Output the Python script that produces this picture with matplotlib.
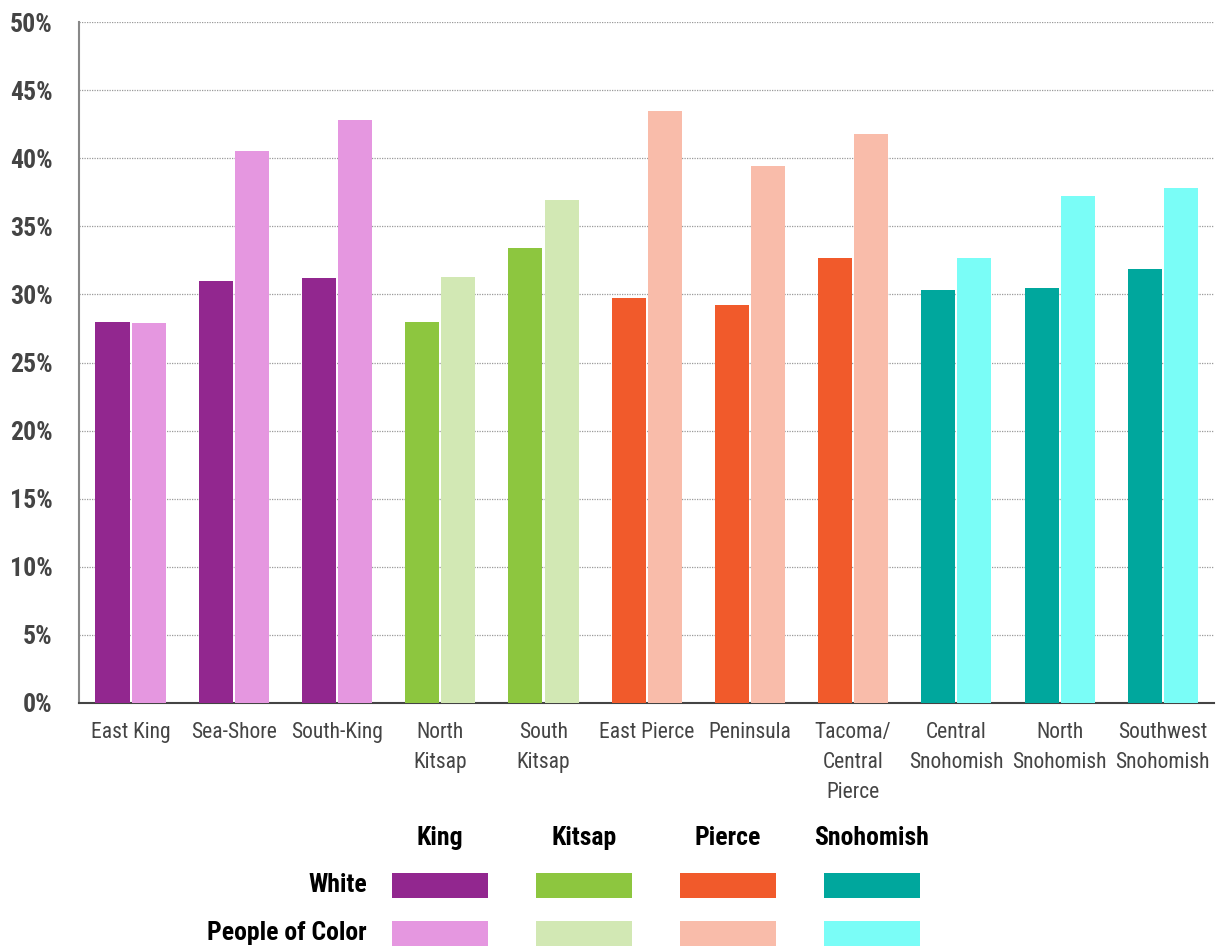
import matplotlib
matplotlib.use("Agg")
import matplotlib.pyplot as plt
import matplotlib.patches as mpatches
import matplotlib.ticker as mticker
import numpy as np
from matplotlib import font_manager

installed = {f.name for f in font_manager.fontManager.ttflist}
fams = [f for f in ["Roboto Condensed", "Liberation Sans Narrow", "Liberation Sans"] if f in installed]
plt.rcParams["font.family"] = fams + ["DejaVu Sans"]

# ── data ────────────────────────────────────────────────────────────────
areas = ["East King", "Sea-Shore", "South-King", "North\nKitsap", "South\nKitsap",
         "East Pierce", "Peninsula", "Tacoma/\nCentral\nPierce", "Central\nSnohomish",
         "North\nSnohomish", "Southwest\nSnohomish"]
area_county = [0, 0, 0, 1, 1, 2, 2, 2, 3, 3, 3]
white = [28.0, 31.0, 31.2, 28.0, 33.4, 29.7, 29.2, 32.7, 30.3, 30.5, 31.9]
poc   = [27.9, 40.5, 42.8, 31.3, 36.9, 43.5, 39.4, 41.8, 32.7, 37.2, 37.8]

counties = ["King", "Kitsap", "Pierce", "Snohomish"]
groups = ["White", "People of Color"]
white_colors = ["#92278F", "#8DC63F", "#F15A2B", "#00A79D"]
poc_colors   = ["#E597E0", "#D2E8B4", "#F9BCAA", "#7AFDF7"]

# ── figure ──────────────────────────────────────────────────────────────
fig = plt.figure(figsize=(12.17, 9.46), dpi=100)
ax = fig.add_axes([0.0649, 0.2569, 0.933, 0.7198])

x = np.arange(len(areas))
w = 0.33
ax.bar(x - 0.175, white, width=w, color=[white_colors[c] for c in area_county], zorder=3)
ax.bar(x + 0.175, poc, width=w, color=[poc_colors[c] for c in area_county], zorder=3)

ax.set_xlim(-0.5, len(areas) - 0.5)
ax.set_ylim(0, 50)
ax.yaxis.set_major_locator(mticker.MultipleLocator(5))
ax.yaxis.set_major_formatter(mticker.FuncFormatter(lambda v, _: f"{v:.0f}%"))
ax.grid(axis="y", linestyle=(0, (1, 1)), color="#9a9a9a", linewidth=0.9, zorder=0)

ax.set_xticks(x)
ax.set_xticklabels(areas, fontsize=15.5, color="#444444", linespacing=1.55, va="top")
ax.tick_params(axis="x", length=0, pad=14)
ax.tick_params(axis="y", length=0, pad=19, labelsize=18.5, labelcolor="#444444")
for lbl in ax.get_yticklabels():
    lbl.set_fontweight("bold")

for s in ["top", "right"]:
    ax.spines[s].set_visible(False)
ax.spines["left"].set_color("#888888")
ax.spines["left"].set_linewidth(1.5)
ax.spines["bottom"].set_color("#444444")
ax.spines["bottom"].set_linewidth(1.5)

# ── legend table ───────────────────────────────────────────────────────
W, H = 1217, 946
col_x = [440, 584, 728, 872]
row_y = [885, 933]
for i, name in enumerate(counties):
    fig.text(col_x[i] / W, 1 - 838 / H, name, ha="center", va="center",
             fontsize=18.5, fontweight="bold", color="black")
    for r, cols in enumerate([white_colors, poc_colors]):
        rect = mpatches.Rectangle(((col_x[i] - 48) / W, 1 - (row_y[r] + 12.5) / H),
                                  96 / W, 25 / H, transform=fig.transFigure,
                                  facecolor=cols[i], edgecolor="none")
        fig.patches.append(rect)
for r, g in enumerate(groups):
    fig.text(367 / W, 1 - row_y[r] / H, g, ha="right", va="center",
             fontsize=18.5, fontweight="bold", color="black")

fig.savefig("out.png", dpi=100)
